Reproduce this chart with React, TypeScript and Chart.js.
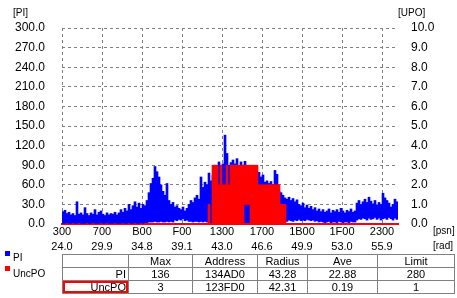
import React, { useEffect, useRef } from "react";
import { Chart, registerables } from "chart.js";

Chart.register(...registerables);

// ---- data -------------------------------------------------------------
const ADDR_START = 0x300;
const ADDR_STEP = 51.2; // address span of one sampled column
const ADDR_END = 0x300 + 168 * 51.2;

const xTickValues = [0x300, 0x700, 0xb00, 0xf00, 0x1300, 0x1700, 0x1b00, 0x1f00, 0x2300];
const xTickHex = ["300", "700", "B00", "F00", "1300", "1700", "1B00", "1F00", "2300"];
const xTickRad = ["24.0", "29.9", "34.8", "39.1", "43.0", "46.6", "49.9", "53.0", "55.9"];

const piHigh = [
  19, 21, 16, 18, 14, 16, 13, 34, 15, 17, 14, 25, 16, 13, 17, 15, 22, 14, 18, 20,
  15, 13, 17, 14, 16, 15, 18, 14, 17, 22, 18, 24, 20, 30, 22, 28, 34, 26, 32, 24,
  30, 28, 36, 48, 62, 70, 88, 80, 72, 60, 50, 44, 62, 36, 30, 33, 26, 28, 24, 22,
  26, 20, 24, 30, 36, 33, 40, 44, 38, 72, 56, 64, 60, 78, 66, 74, 90, 86, 95, 88,
  92, 136, 108, 90, 94, 98, 92, 100, 88, 95, 90, 96, 88, 85, 82, 80, 78, 76, 79, 72,
  75, 64, 66, 62, 65, 60, 82, 76, 50, 48, 44, 40, 38, 41, 36, 39, 34, 37, 30, 28,
  32, 25, 29, 24, 27, 22, 25, 20, 23, 19, 22, 18, 20, 23, 17, 21, 19, 22, 18, 24,
  20, 17, 21, 19, 23, 18, 20, 32, 36, 30, 34, 38, 33, 41, 35, 31, 36, 29, 33, 30,
  47, 40, 36, 32, 26, 30, 38, 34,
];
const piLow = [
  1, 1, 2, 1, 1, 2, 1, 1, 2, 1, 1, 1, 2, 1, 1, 2, 1, 1, 1, 2,
  1, 1, 2, 1, 1, 1, 2, 1, 1, 1, 2, 1, 1, 2, 1, 1, 2, 1, 1, 2,
  1, 2, 2, 3, 3, 3, 4, 3, 3, 4, 3, 3, 4, 3, 4, 3, 6, 5, 7, 6,
  8, 5, 6, 4, 4, 3, 4, 4, 3, 4, 3, 4, 3, 3, 2, 3, 2, 2, 2, 2,
  2, 2, 2, 2, 2, 2, 2, 2, 2, 2, 2, 2, 2, 2, 2, 2, 2, 2, 2, 2,
  2, 2, 2, 2, 2, 2, 2, 2, 4, 3, 4, 5, 4, 6, 5, 4, 6, 5, 7, 5,
  6, 5, 7, 6, 5, 6, 4, 5, 3, 4, 3, 2, 3, 4, 2, 3, 3, 2, 4, 3,
  2, 3, 3, 2, 4, 3, 3, 6, 8, 7, 9, 8, 6, 9, 7, 8, 10, 7, 9, 6,
  8, 9, 7, 10, 8, 6, 9, 7,
];

// UncPO (right axis) as [low, high] per sampled column where non-zero
const upoColumns = [73, 75, 76, 77, 78, 79, 80, 81, 82, 83, 84, 85, 86, 87, 88, 89, 90, 91, 92, 93, 94, 95, 96, 97, 98, 99, 100, 101, 102, 103, 104, 105, 106, 107, 108, 109, 110, 111];
const upoLow = [0, 0, 0, 0, 0, 0, 0, 0, 0, 0, 0, 0, 0, 0, 0, 0, 0, 1, 1, 1, 0, 0, 0, 0, 0, 0, 0, 0, 0, 0, 0, 0, 0, 0, 0, 0, 0, 0];
const upoHigh = [1, 3, 3, 3, 2, 3, 2, 2, 3, 2, 3, 3, 3, 3, 3, 3, 3, 3, 3, 3, 3, 3, 3, 3, 2, 2, 2, 2, 2, 2, 2, 2, 2, 2, 2, 1, 1, 1];

const yLeftTicks = [0, 30, 60, 90, 120, 150, 180, 210, 240, 270, 300];
const yRightTicks = [0, 1, 2, 3, 4, 5, 6, 7, 8, 9, 10];

const tableHeader = ["", "Max", "Address", "Radius", "Ave", "Limit"];
const tableRows = [
  ["PI", "136", "134AD0", "43.28", "22.88", "280"],
  ["UncPO", "3", "123FD0", "42.31", "0.19", "1"],
];

const FONT = "Arial, 'Liberation Sans', sans-serif";
const GRID_DASH = [3, 3];

export default function App() {
  const ref = useRef<HTMLCanvasElement | null>(null);

  useEffect(() => {
    document.body.style.margin = "0";
    const canvas = ref.current;
    if (!canvas) return;
    const colX = (i: number) => ADDR_START + (i + 0.5) * ADDR_STEP;
    const piData = piHigh.map((h, i) => ({ x: colX(i), y: [piLow[i], h] }));
    const upoData = upoColumns.map((c, k) => ({ x: colX(c), y: [upoLow[k], upoHigh[k]] }));

    const chart = new Chart(canvas, {
      type: "bar",
      data: {
        datasets: [
          {
            label: "PI",
            data: piData as any,
            backgroundColor: "#0000ff",
            borderWidth: 0,
            barPercentage: 1,
            categoryPercentage: 1,
            grouped: false,
            yAxisID: "y",
            order: 1,
          } as any,
          {
            label: "UncPO",
            data: upoData as any,
            backgroundColor: "#ff0000",
            borderWidth: 0,
            barPercentage: 1,
            categoryPercentage: 1,
            grouped: false,
            yAxisID: "y1",
            order: 0,
          } as any,
        ],
      },
      options: {
        responsive: false,
        animation: false,
        layout: { padding: { left: 0, right: 0, top: 28, bottom: 0 } },
        plugins: { legend: { display: false }, tooltip: { enabled: false } },
        scales: {
          x: {
            type: "linear",
            offset: false,
            min: ADDR_START,
            max: ADDR_END,
            grid: { color: "#808080", lineWidth: 1, drawTicks: false, offset: false } as any,
            border: { display: true, color: "#ff0000", width: 2, dash: GRID_DASH } as any,
            afterBuildTicks: (s: any) => {
              s.ticks = xTickValues.map((v) => ({ value: v }));
            },
            afterFit: (s: any) => {
              s.height = 74;
            },
            ticks: {
              color: "#000",
              padding: 0,
              maxRotation: 0,
              autoSkip: false,
              font: { family: FONT, size: 11, lineHeight: "15px" } as any,
              callback: (v: any) => {
                const i = xTickValues.indexOf(Number(v));
                return i >= 0 ? [xTickHex[i], xTickRad[i]] : "";
              },
            },
          },
          y: {
            position: "left",
            min: 0,
            max: 300,
            afterBuildTicks: (s: any) => {
              s.ticks = yLeftTicks.map((v) => ({ value: v }));
            },
            afterFit: (s: any) => {
              s.width = 62;
            },
            grid: { color: "#808080", drawTicks: false } as any,
            border: { display: false, dash: GRID_DASH } as any,
            ticks: {
              color: "#000",
              padding: 17,
              font: { family: FONT, size: 12 },
              callback: (v: any) => Number(v).toFixed(1),
            },
          },
          y1: {
            position: "right",
            min: 0,
            max: 10,
            afterBuildTicks: (s: any) => {
              s.ticks = yRightTicks.map((v) => ({ value: v }));
            },
            afterFit: (s: any) => {
              s.width = 59;
            },
            grid: { display: false, drawTicks: false } as any,
            border: { display: false },
            ticks: {
              color: "#000",
              padding: 13,
              font: { family: FONT, size: 12 },
              callback: (v: any) => Number(v).toFixed(1),
            },
          },
        },
      },
    } as any);
    return () => chart.destroy();
  }, []);

  const unit: React.CSSProperties = {
    position: "absolute",
    fontFamily: FONT,
    fontSize: 10,
    lineHeight: "12px",
    color: "#000",
    whiteSpace: "nowrap",
  };
  const cell: React.CSSProperties = {
    border: "1px solid #808080",
    padding: 0,
    height: 12,
    textAlign: "center",
    fontFamily: FONT,
    fontSize: 11,
    lineHeight: "12px",
    overflow: "hidden",
    whiteSpace: "nowrap",
  };
  const colWidths = [66, 64, 65, 50, 70, 77];

  return (
    <div style={{ position: "fixed", left: 0, top: 0, width: 457, height: 298, background: "#fff" }}>
      <canvas ref={ref} width={457} height={298} style={{ position: "absolute", left: 0, top: 0 }} />
      <span style={{ ...unit, left: 13, top: 7 }}>[PI]</span>
      <span style={{ ...unit, left: 398, top: 7 }}>[UPO]</span>
      <span style={{ ...unit, left: 433, top: 225 }}>[psn]</span>
      <span style={{ ...unit, left: 433, top: 240 }}>[rad]</span>
      <div style={{ position: "absolute", left: 5, top: 251, width: 5, height: 5, background: "#0000ff" }} />
      <span style={{ ...unit, left: 13, top: 252 }}>PI</span>
      <div style={{ position: "absolute", left: 5, top: 266, width: 5, height: 5, background: "#ff0000" }} />
      <span style={{ ...unit, left: 13, top: 268 }}>UncPO</span>
      <table
        style={{
          position: "absolute",
          left: 62,
          top: 254,
          borderCollapse: "collapse",
          tableLayout: "fixed",
          width: 392,
        }}
      >
        <colgroup>
          {colWidths.map((w, i) => (
            <col key={i} style={{ width: w }} />
          ))}
        </colgroup>
        <tbody>
          <tr>
            {tableHeader.map((h, i) => (
              <td key={i} style={cell}>{h}</td>
            ))}
          </tr>
          {tableRows.map((r, ri) => (
            <tr key={ri}>
              {r.map((v, i) => (
                <td
                  key={i}
                  style={
                    i === 0
                      ? { ...cell, textAlign: "right", paddingRight: 2, boxShadow: ri === 1 ? "inset 0 0 0 2px #ff0000" : undefined }
                      : cell
                  }
                >
                  {v}
                </td>
              ))}
            </tr>
          ))}
        </tbody>
      </table>
    </div>
  );
}
